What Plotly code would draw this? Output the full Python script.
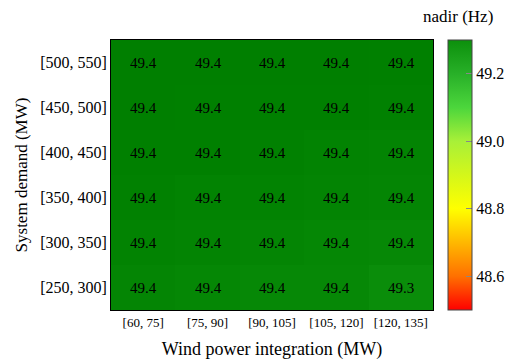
import plotly.graph_objects as go

# Wind power integration bins (columns) and system demand bins (rows, bottom to top)
wind_bins = ["[60, 75]", "[75, 90]", "[90, 105]", "[105, 120]", "[120, 135]"]
demand_bins = ["[250, 300]", "[300, 350]", "[350, 400]", "[400, 450]", "[450, 500]", "[500, 550]"]

# Frequency nadir (Hz), one row per demand bin
nadir = [
    [49.38, 49.37, 49.36, 49.36, 49.32],
    [49.40, 49.39, 49.38, 49.37, 49.36],
    [49.41, 49.40, 49.40, 49.39, 49.38],
    [49.42, 49.42, 49.41, 49.40, 49.39],
    [49.43, 49.42, 49.42, 49.42, 49.41],
    [49.43, 49.43, 49.43, 49.43, 49.42],
]

cb_min, cb_max = 48.5, 49.3
map_max = 49.45

# Palette stops given in Hz
stops = [
    (48.5, "#ff0000"),
    (48.6, "#ff7000"),
    (48.7, "#ffb800"),
    (48.8, "#ffff00"),
    (48.9, "#d4f71a"),
    (49.0, "#a8f038"),
    (49.1, "#4cd63c"),
    (49.2, "#28b028"),
    (49.3, "#0c900c"),
    (49.42, "#008000"),
    (49.45, "#007c00"),
]


def scale(lo, hi):
    out = []
    for v, c in stops:
        if lo <= v <= hi:
            out.append([(v - lo) / (hi - lo), c])
    return out


font = "Liberation Serif"

fig = go.Figure()
fig.add_trace(go.Heatmap(
    x=wind_bins, y=demand_bins, z=nadir,
    zmin=cb_min, zmax=map_max, colorscale=scale(cb_min, map_max),
    showscale=False,
    texttemplate="%{z:.1f}",
    textfont=dict(family=font, size=15, color="black"),
    xgap=0, ygap=0,
))

# Colour bar for the nadir scale
fig.add_trace(go.Scatter(
    x=[None], y=[None], mode="markers", showlegend=False,
    marker=dict(
        color=[cb_min], cmin=cb_min, cmax=cb_max,
        colorscale=scale(cb_min, cb_max), showscale=True,
        colorbar=dict(
            x=1.046, xanchor="left", xpad=0, ypad=0,
            y=0.5, yanchor="middle", len=1.0, lenmode="fraction",
            thickness=24, outlinewidth=1, outlinecolor="#444",
            tickvals=[48.6, 48.8, 49.0, 49.2], ticktext=["48.6", "48.8", "49.0", "49.2"],
            tickprefix="\u2002",
            ticks="inside", ticklen=6, tickcolor="#888", tickwidth=1,
            tickfont=dict(family=font, size=16, color="black"),
        ),
    ),
))

fig.add_annotation(
    text="nadir (Hz)", xref="paper", yref="paper", x=1.078, y=1.088,
    xanchor="center", yanchor="middle", showarrow=False,
    font=dict(family=font, size=17, color="black"),
)

fig.update_xaxes(
    title=dict(text="Wind power integration (MW)", font=dict(family=font, size=18, color="black"), standoff=13),
    tickfont=dict(family=font, size=13, color="black"),
    showline=True, linecolor="black", linewidth=1, mirror=True,
    ticks="", showgrid=False, zeroline=False, automargin=False,
)
fig.update_yaxes(
    title=dict(text="System demand (MW)", font=dict(family=font, size=17, color="black"), standoff=8),
    tickfont=dict(family=font, size=16, color="black"),
    showline=True, linecolor="black", linewidth=1, mirror=True,
    ticks="", showgrid=False, zeroline=False, automargin=False,
)

fig.update_layout(
    width=517, height=360,
    font=dict(family=font, color="black"),
    margin=dict(l=111, r=84, t=40, b=50, autoexpand=False),
    paper_bgcolor="white", plot_bgcolor="white",
)

fig.write_html("out.html")
